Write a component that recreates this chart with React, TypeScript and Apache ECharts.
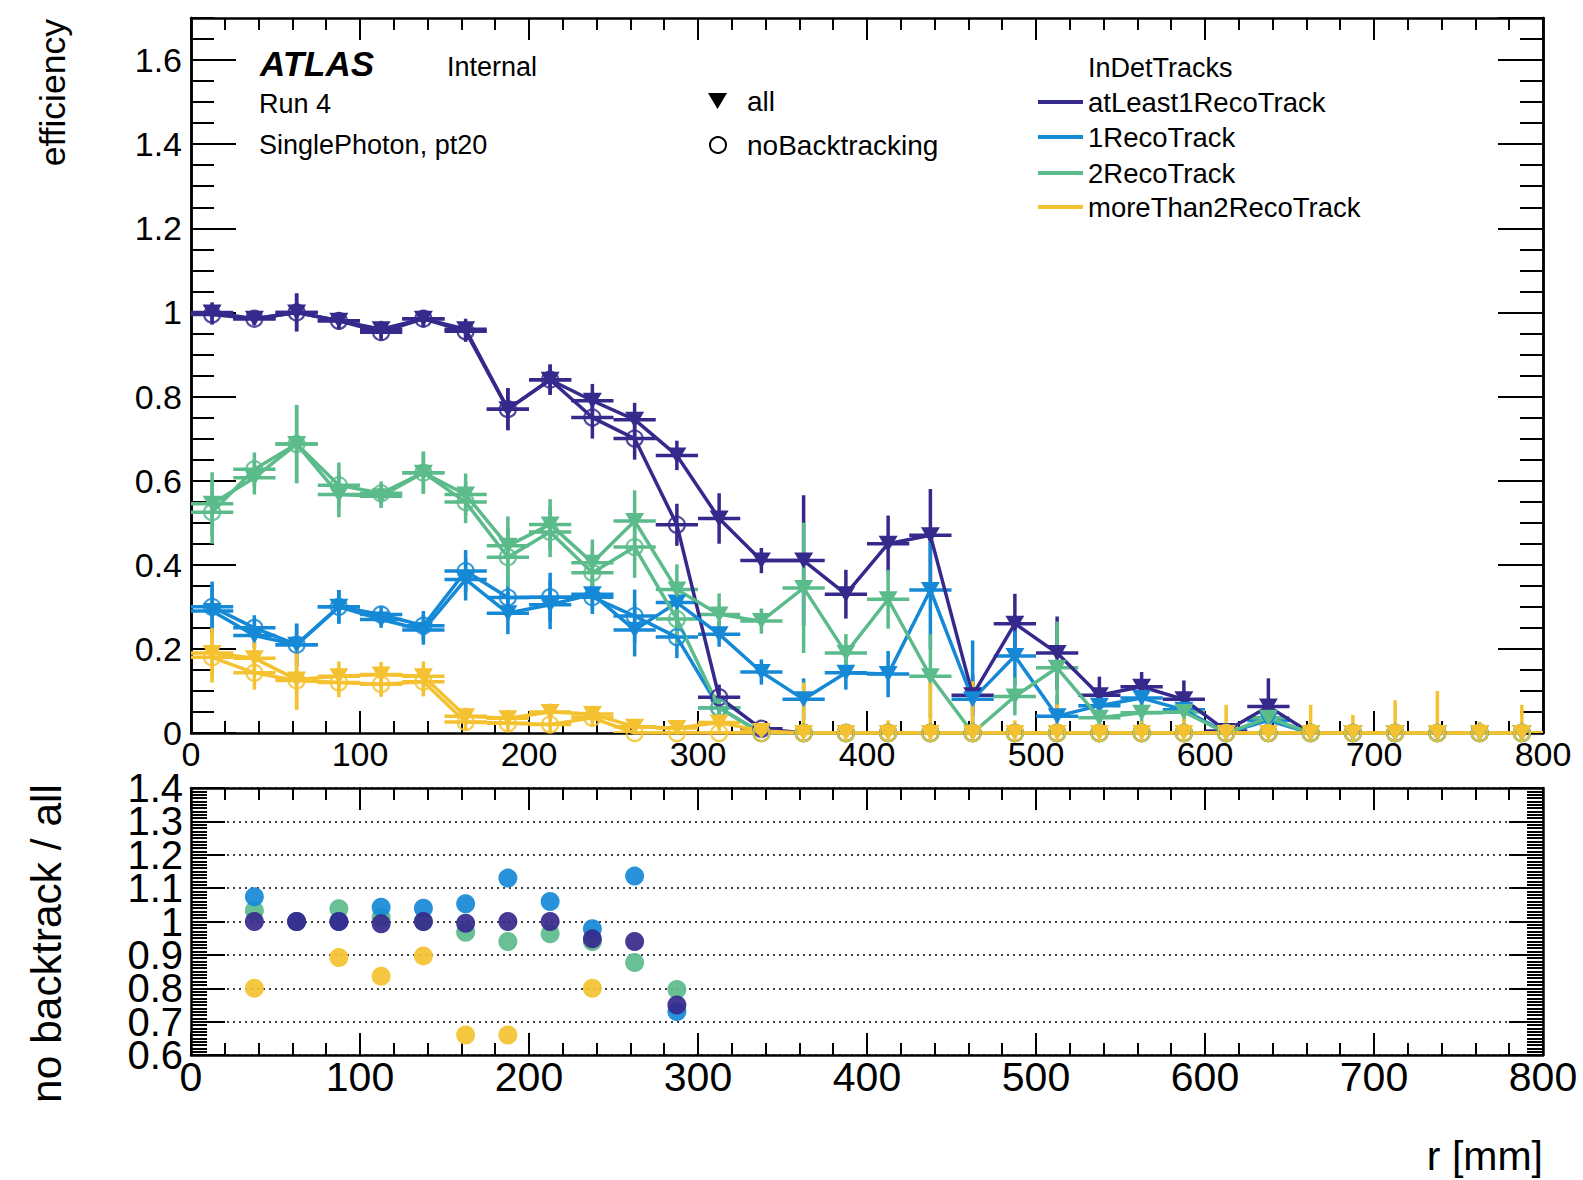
import React, { useEffect, useRef } from "react";
import * as echarts from "echarts";

// ---------------- data ----------------
const rCenters = [12.5, 37.5, 62.5, 87.5, 112.5, 137.5, 162.5, 187.5, 212.5, 237.5, 262.5, 287.5, 312.5, 337.5, 362.5, 387.5, 412.5, 437.5, 462.5, 487.5, 512.5, 537.5, 562.5, 587.5, 612.5, 637.5, 662.5, 687.5, 712.5, 737.5, 762.5, 787.5];
const BIN_HALF_WIDTH = 12.5;

const trackNames = ["atLeast1RecoTrack", "1RecoTrack", "2RecoTrack", "moreThan2RecoTrack"];
const trackColors = ["#36298c", "#1589d6", "#5bbb8b", "#f4c231"];

// efficiency, all tracks
const atLeast1All = [1.0, 0.985, 1.0, 0.98, 0.96, 0.985, 0.96, 0.77, 0.84, 0.79, 0.745, 0.66, 0.51, 0.41, 0.41, 0.33, 0.45, 0.47, 0.09, 0.26, 0.19, 0.09, 0.11, 0.08, 0.005, 0.063, 0, 0, 0, 0, 0, 0];
const atLeast1AllErr = [0.024, 0.015, 0.045, 0.02, 0.02, 0.02, 0.025, 0.05, 0.036, 0.04, 0.04, 0.035, 0.06, 0.03, 0.155, 0.058, 0.067, 0.11, 0.05, 0.071, 0.087, 0.044, 0.035, 0.045, 0.01, 0.067, 0, 0, 0, 0, 0, 0];
const oneAll = [0.29, 0.232, 0.21, 0.3, 0.27, 0.245, 0.365, 0.285, 0.305, 0.33, 0.245, 0.31, 0.235, 0.145, 0.08, 0.143, 0.14, 0.34, 0.08, 0.183, 0.04, 0.065, 0.083, 0.055, 0.0, 0.03, 0, 0, 0, 0, 0, 0];
const oneAllErr = [0.06, 0.03, 0.05, 0.04, 0.02, 0.035, 0.05, 0.05, 0.058, 0.04, 0.063, 0.05, 0.03, 0.03, 0.05, 0.04, 0.055, 0.14, 0.14, 0.07, 0.05, 0.03, 0.025, 0.03, 0.01, 0.03, 0, 0, 0, 0, 0, 0];
const twoAll = [0.545, 0.607, 0.687, 0.567, 0.563, 0.619, 0.567, 0.445, 0.496, 0.405, 0.504, 0.341, 0.282, 0.266, 0.345, 0.19, 0.318, 0.135, 0.0, 0.087, 0.155, 0.036, 0.048, 0.05, 0.0, 0.036, 0, 0, 0, 0, 0, 0];
const twoAllErr = [0.075, 0.04, 0.093, 0.054, 0.028, 0.05, 0.05, 0.07, 0.06, 0.055, 0.073, 0.06, 0.05, 0.03, 0.155, 0.045, 0.07, 0.1, 0.03, 0.045, 0.11, 0.03, 0.03, 0.03, 0.01, 0.04, 0, 0, 0, 0, 0, 0];
const moreAll = [0.19, 0.178, 0.127, 0.135, 0.139, 0.135, 0.04, 0.035, 0.05, 0.045, 0.015, 0.012, 0.025, 0.005, 0, 0, 0, 0, 0, 0, 0, 0, 0, 0, 0, 0, 0, 0, 0, 0, 0, 0];
const moreAllErr = [0.06, 0.04, 0.07, 0.035, 0.03, 0.035, 0.02, 0.02, 0.02, 0.02, 0.015, 0.015, 0.02, 0.015, 0.12, 0.02, 0.03, 0.123, 0.123, 0.03, 0.068, 0.048, 0.028, 0.048, 0.067, 0.052, 0.067, 0.043, 0.078, 0.1, 0.027, 0.067];

// efficiency, no backtracking
const atLeast1NoBT = [0.995, 0.985, 1.0, 0.98, 0.953, 0.985, 0.955, 0.77, 0.84, 0.75, 0.7, 0.495, 0.085, 0.01, 0, 0, 0, 0, 0, 0, 0, 0, 0, 0, 0, 0, 0, 0, 0, 0, 0, 0];
const atLeast1NoBTErr = [0.024, 0.015, 0.045, 0.02, 0.02, 0.02, 0.025, 0.05, 0.036, 0.05, 0.05, 0.05, 0.03, 0.01, 0, 0, 0, 0, 0, 0, 0, 0, 0, 0, 0, 0, 0, 0, 0, 0, 0, 0];
const oneNoBT = [0.3, 0.25, 0.21, 0.3, 0.282, 0.255, 0.385, 0.322, 0.323, 0.323, 0.278, 0.228, 0.06, 0, 0, 0, 0, 0, 0, 0, 0, 0, 0, 0, 0, 0, 0, 0, 0, 0, 0, 0];
const oneNoBTErr = [0.06, 0.03, 0.05, 0.04, 0.02, 0.035, 0.05, 0.05, 0.058, 0.04, 0.063, 0.05, 0.03, 0, 0, 0, 0, 0, 0, 0, 0, 0, 0, 0, 0, 0, 0, 0, 0, 0, 0, 0];
const twoNoBT = [0.525, 0.627, 0.687, 0.589, 0.57, 0.619, 0.549, 0.418, 0.478, 0.381, 0.442, 0.271, 0.06, 0, 0, 0, 0, 0, 0, 0, 0, 0, 0, 0, 0, 0, 0, 0, 0, 0, 0, 0];
const twoNoBTErr = [0.075, 0.04, 0.093, 0.054, 0.028, 0.05, 0.05, 0.07, 0.06, 0.055, 0.073, 0.06, 0.03, 0, 0, 0, 0, 0, 0, 0, 0, 0, 0, 0, 0, 0, 0, 0, 0, 0, 0, 0];
const moreNoBT = [0.18, 0.143, 0.125, 0.12, 0.116, 0.122, 0.026, 0.023, 0.02, 0.036, 0, 0, 0, 0, 0, 0, 0, 0, 0, 0, 0, 0, 0, 0, 0, 0, 0, 0, 0, 0, 0, 0];
const moreNoBTErr = [0.06, 0.04, 0.07, 0.035, 0.03, 0.035, 0.02, 0.02, 0.02, 0.02, 0, 0, 0, 0, 0, 0, 0, 0, 0, 0, 0, 0, 0, 0, 0, 0, 0, 0, 0, 0, 0, 0];

// ratio no backtrack / all (first 12 bins)
const ratioAtLeast1 = [null, 1.0, 1.0, 1.0, 0.993, 1.0, 0.995, 1.0, 1.0, 0.948, 0.94, 0.75];
const ratioOne = [null, 1.074, 1.0, 1.0, 1.043, 1.04, 1.053, 1.13, 1.06, 0.978, 1.136, 0.73];
const ratioTwo = [null, 1.033, 1.0, 1.038, 1.013, 1.0, 0.968, 0.94, 0.963, 0.94, 0.877, 0.796];
const ratioMore = [null, 0.8, 1.0, 0.892, 0.836, 0.897, 0.66, 0.66, null, 0.8, null, null];

const allValues = [atLeast1All, oneAll, twoAll, moreAll];
const allErrors = [atLeast1AllErr, oneAllErr, twoAllErr, moreAllErr];
const noBTValues = [atLeast1NoBT, oneNoBT, twoNoBT, moreNoBT];
const noBTErrors = [atLeast1NoBTErr, oneNoBTErr, twoNoBTErr, moreNoBTErr];
const ratioValues = [ratioAtLeast1, ratioOne, ratioTwo, ratioMore];
const ratioDrawOrder = [3, 2, 1, 0];

const FONT = "Liberation Sans, Arial, Helvetica, sans-serif";

function errorBarSeries(color: string, vals: number[], errs: number[]) {
  return {
    type: "custom",
    xAxisIndex: 0,
    yAxisIndex: 0,
    clip: true,
    silent: true,
    dimensions: ["r", "eff", "err"],
    encode: { x: "r", y: "eff" },
    data: rCenters.map((r, i) => [r, vals[i], errs[i]]),
    renderItem: (_params: any, api: any) => {
      const r = api.value(0);
      const v = api.value(1);
      const e = api.value(2);
      const lo = api.coord([r, Math.max(0, v - e)]);
      const hi = api.coord([r, v + e]);
      const left = api.coord([r - BIN_HALF_WIDTH, v]);
      const right = api.coord([r + BIN_HALF_WIDTH, v]);
      const style = { stroke: color, lineWidth: 3.5, fill: null };
      const children: any[] = [
        { type: "line", shape: { x1: left[0], y1: left[1], x2: right[0], y2: right[1] }, style },
      ];
      if (e > 0) {
        children.push({ type: "line", shape: { x1: lo[0], y1: lo[1], x2: hi[0], y2: hi[1] }, style });
      }
      return { type: "group", children };
    },
  };
}

function lineSeries(color: string, vals: number[], filled: boolean) {
  return {
    type: "line",
    xAxisIndex: 0,
    yAxisIndex: 0,
    silent: true,
    showAllSymbol: true,
    data: rCenters.map((r, i) => [r, vals[i]]),
    symbol: filled ? "triangle" : "circle",
    symbolRotate: filled ? 180 : 0,
    symbolSize: filled ? [19, 16] : 16,
    lineStyle: { color, width: 3.5 },
    itemStyle: filled
      ? { color, borderWidth: 0 }
      : { color: "rgba(255,255,255,0)", borderColor: color, borderWidth: 2.2, opacity: 0.85 },
    emphasis: { disabled: true },
  };
}

function ratioSeries(idx: number) {
  const data: number[][] = [];
  ratioValues[idx].forEach((v, i) => {
    if (v !== null) data.push([rCenters[i], v as number]);
  });
  return {
    type: "scatter",
    xAxisIndex: 2,
    yAxisIndex: 4,
    silent: true,
    symbol: "circle",
    symbolSize: 19,
    itemStyle: { color: trackColors[idx], opacity: 0.92 },
    data,
  };
}

const black = "#000";
function xAxisCfg(grid: number, pos: string, labels: boolean, fontSize: number, margin: number, majorLen: number, minorLen: number) {
  return {
    type: "value",
    gridIndex: grid,
    position: pos,
    min: 0,
    max: 800,
    interval: 100,
    axisLine: { show: true, onZero: false, lineStyle: { color: black, width: 2.5 } },
    axisTick: { show: true, inside: true, length: majorLen, lineStyle: { color: black, width: 2 } },
    minorTick: { show: true, splitNumber: 5, length: minorLen, lineStyle: { color: black, width: 2 } },
    axisLabel: { show: labels, fontSize, margin, color: black, fontFamily: FONT, hideOverlap: false, showMinLabel: true, showMaxLabel: true },
    splitLine: { show: false },
    minorSplitLine: { show: false },
  };
}

function yAxisCfg(grid: number, pos: string, min: number, max: number, interval: number, opts: any) {
  return {
    type: "value",
    gridIndex: grid,
    position: pos,
    min,
    max,
    interval,
    axisLine: { show: opts.noLine ? false : true, onZero: false, lineStyle: { color: black, width: 2.5 } },
    axisTick: opts.noTick
      ? { show: false }
      : { show: true, inside: true, length: opts.tickLen, lineStyle: { color: black, width: 2 } },
    minorTick: opts.minor
      ? { show: true, splitNumber: opts.minor, length: opts.minorLen, lineStyle: { color: black, width: 2 } }
      : { show: false },
    axisLabel: opts.labels
      ? {
          show: true,
          fontSize: opts.fontSize,
          margin: opts.margin,
          color: black,
          fontFamily: FONT,
          hideOverlap: false,
          showMinLabel: opts.showMin !== false,
          showMaxLabel: opts.showMax !== false,
          formatter: opts.formatter,
        }
      : { show: false },
    splitLine: opts.grid
      ? { show: true, lineStyle: { color: black, width: 1.5, type: [2, 4] } }
      : { show: false },
    minorSplitLine: { show: false },
  };
}

// the ratio axis labels are split over two label-only axes so that none is dropped
const evenTenths = (v: number) => {
  const t = Math.round(v * 10);
  return t % 2 === 0 ? String(t / 10) : "";
};
const oddTenths = (v: number) => {
  const t = Math.round(v * 10);
  return t % 2 !== 0 ? String(t / 10) : "";
};

export default function App() {
  const ref = useRef<HTMLDivElement>(null);

  useEffect(() => {
    if (!ref.current) return;
    const chart = echarts.init(ref.current, null, { renderer: "svg" });

    const series: any[] = [];
    for (let k = 0; k < 4; k++) {
      series.push(errorBarSeries(trackColors[k], noBTValues[k], noBTErrors[k]));
      series.push(lineSeries(trackColors[k], noBTValues[k], false));
      series.push(errorBarSeries(trackColors[k], allValues[k], allErrors[k]));
      series.push(lineSeries(trackColors[k], allValues[k], true));
    }
    ratioDrawOrder.forEach((k) => series.push(ratioSeries(k)));

    const txt = (text: string, x: number, y: number, size: number, extra: any = {}, rotation = 0) => ({
      type: "text",
      x,
      y,
      rotation,
      silent: true,
      style: { text, fontSize: size, fontFamily: FONT, fill: black, verticalAlign: "middle", align: "left", ...extra },
    });

    const legendY = [102, 137, 173, 207];
    const graphic: any[] = [
      txt("ATLAS", 260, 63, 35, { fontWeight: "bold", fontStyle: "italic" }),
      txt("Internal", 447, 67, 27),
      txt("Run 4", 259, 104, 27),
      txt("SinglePhoton, pt20", 259, 145, 27),
      {
        type: "polygon",
        silent: true,
        shape: { points: [[708, 93], [727, 93], [717.5, 109]] },
        style: { fill: black },
      },
      txt("all", 747, 101, 28),
      { type: "circle", silent: true, shape: { cx: 718, cy: 145, r: 8 }, style: { fill: null, stroke: black, lineWidth: 2 } },
      txt("noBacktracking", 747, 145, 28),
      txt("InDetTracks", 1088, 68, 27),
    ];
    trackNames.forEach((name, k) => {
      graphic.push({
        type: "line",
        silent: true,
        shape: { x1: 1038, y1: legendY[k], x2: 1083, y2: legendY[k] },
        style: { stroke: trackColors[k], lineWidth: 4 },
      });
      graphic.push(txt(name, 1088, legendY[k], 27.5));
    });
    graphic.push(txt("efficiency", 53, 19, 35.5, { align: "right" }, Math.PI / 2));
    graphic.push(txt("no backtrack / all", 46, 784, 42.5, { align: "right" }, Math.PI / 2));
    graphic.push(txt("r [mm]", 1543, 1156, 41, { align: "right" }));

    chart.setOption({
      animation: false,
      backgroundColor: "#fff",
      textStyle: { fontFamily: FONT },
      grid: [
        { left: 191, top: 18, width: 1352, height: 715, containLabel: false, outerBoundsMode: "none" },
        { left: 191, top: 788, width: 1352, height: 267, containLabel: false, outerBoundsMode: "none" },
      ],
      xAxis: [
        xAxisCfg(0, "bottom", true, 34, 4, 22, 12),
        xAxisCfg(0, "top", false, 34, 4, 22, 12),
        xAxisCfg(1, "bottom", true, 41, 1, 22, 12),
        xAxisCfg(1, "top", false, 41, 1, 22, 12),
      ],
      yAxis: [
        yAxisCfg(0, "left", 0, 1.7, 0.2, { tickLen: 45, labels: true, fontSize: 34, margin: 9, showMax: false }),
        yAxisCfg(0, "left", 0, 1.7, 0.05, { tickLen: 23, labels: false }),
        yAxisCfg(0, "right", 0, 1.7, 0.2, { tickLen: 45, labels: false }),
        yAxisCfg(0, "right", 0, 1.7, 0.05, { tickLen: 23, labels: false }),
        yAxisCfg(1, "left", 0.6, 1.4, 0.1, {
          tickLen: 34, minor: 10, minorLen: 16, labels: true, fontSize: 40, margin: 8, grid: true,
          formatter: evenTenths,
        }),
        yAxisCfg(1, "right", 0.6, 1.4, 0.1, { tickLen: 34, minor: 10, minorLen: 16, labels: false }),
        yAxisCfg(1, "left", 0.6, 1.4, 0.1, {
          noLine: true, noTick: true, labels: true, fontSize: 40, margin: 8,
          showMin: false, showMax: false, formatter: oddTenths,
        }),
      ],
      series,
      graphic,
    });

    return () => chart.dispose();
  }, []);

  return (
    <div
      ref={ref}
      style={{ position: "absolute", left: 0, top: 0, width: 1583, height: 1180, background: "#fff" }}
    />
  );
}
